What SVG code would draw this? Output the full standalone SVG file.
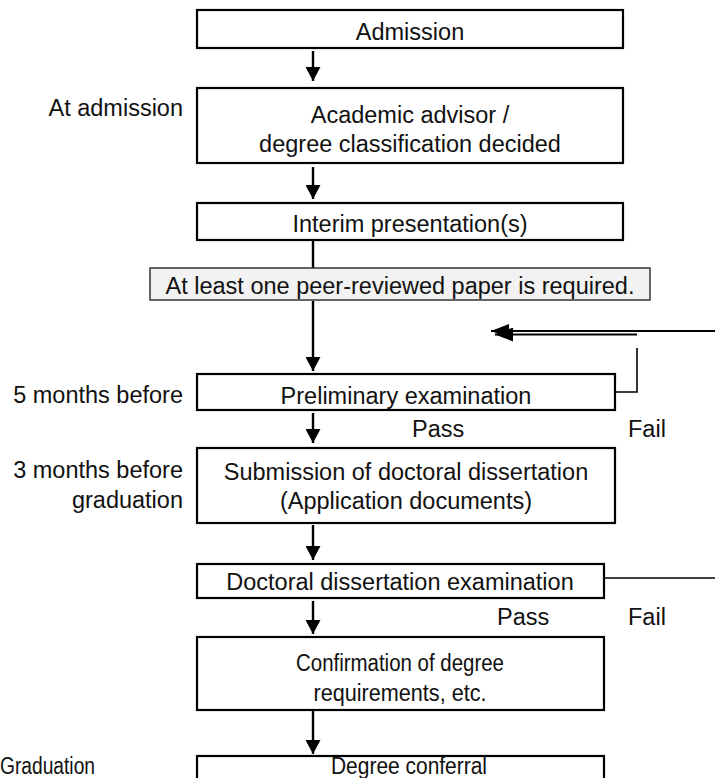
<svg xmlns="http://www.w3.org/2000/svg" width="715" height="778" viewBox="0 0 715 778">
<style>
text{font-family:"Liberation Sans",Arial,sans-serif;font-size:23.5px;fill:#111}
.c{text-anchor:middle}
.r{text-anchor:end}
.box{fill:#fff;stroke:#000;stroke-width:2.2}
.note{fill:#f2f2f2;stroke:#333;stroke-width:1.5}
.ln{fill:none;stroke:#000;stroke-width:2.4}
.thin{fill:none;stroke:#000;stroke-width:1.6}
.dbl{fill:none;stroke:#000;stroke-width:2}
</style>
<defs>
<marker id="ah" markerWidth="14" markerHeight="15" refX="10" refY="5" orient="auto" markerUnits="userSpaceOnUse" viewBox="0 0 10 10" preserveAspectRatio="none">
<path d="M0,0 L10,5 L0,10 Z" fill="#000"/>
</marker>
<marker id="ah2" markerWidth="18" markerHeight="14" refX="10" refY="5" orient="auto" markerUnits="userSpaceOnUse" viewBox="0 0 10 10" preserveAspectRatio="none">
<path d="M0,0 L10,5 L0,10 Z" fill="#000"/>
</marker>
</defs>
<rect width="715" height="778" fill="#fff"/>

<g id="connectors">
<line class="ln" x1="313" y1="51" x2="313" y2="81" marker-end="url(#ah)"/>
<line class="ln" x1="313" y1="167" x2="313" y2="199" marker-end="url(#ah)"/>
<line class="ln" x1="313" y1="241" x2="313" y2="268"/>
<line class="ln" x1="313" y1="301" x2="313" y2="371" marker-end="url(#ah)"/>
<line class="ln" x1="313" y1="413" x2="313" y2="443" marker-end="url(#ah)"/>
<line class="ln" x1="313" y1="525" x2="313" y2="560" marker-end="url(#ah)"/>
<line class="ln" x1="313" y1="601" x2="313" y2="634" marker-end="url(#ah)"/>
<line class="ln" x1="313" y1="711" x2="313" y2="754" marker-end="url(#ah)"/>
<polyline class="thin" points="616,392 637,392 637,348"/>
<line class="thin" x1="605" y1="578" x2="715" y2="578"/>
<line class="dbl" x1="715" y1="331" x2="491" y2="331" marker-end="url(#ah2)"/>
<line class="dbl" x1="637" y1="334.5" x2="495" y2="334.5" marker-end="url(#ah2)"/>
</g>

<g id="admission">
<rect class="box" x="197" y="10" width="426" height="38"/>
<text class="c" x="410" y="40">Admission</text>
</g>
<g id="label-at-admission">
<text class="r" x="183" y="116">At admission</text>
</g>
<g id="advisor">
<rect class="box" x="197" y="88" width="426" height="75"/>
<text class="c" x="410" y="123">Academic advisor /</text>
<text class="c" x="410" y="152">degree classification decided</text>
</g>
<g id="interim">
<rect class="box" x="197" y="203" width="426" height="37"/>
<text class="c" x="410" y="232">Interim presentation(s)</text>
</g>
<g id="paper-note">
<rect class="note" x="150" y="268" width="500" height="32"/>
<text class="c" x="400" y="294">At least one peer-reviewed paper is required.</text>
</g>
<g id="label-5-months">
<text class="r" x="183" y="403">5 months before</text>
</g>
<g id="preliminary">
<rect class="box" x="197" y="374" width="418" height="36"/>
<text class="c" x="406" y="404">Preliminary examination</text>
</g>
<g id="result-1">
<text x="412" y="437">Pass</text>
<text x="628" y="437">Fail</text>
</g>
<g id="label-3-months">
<text class="r" x="183" y="478">3 months before</text>
<text class="r" x="183" y="508">graduation</text>
</g>
<g id="submission">
<rect class="box" x="197" y="448" width="418" height="75"/>
<text class="c" x="406" y="480">Submission of doctoral dissertation</text>
<text class="c" x="406" y="509">(Application documents)</text>
</g>
<g id="dissertation-exam">
<rect class="box" x="197" y="564" width="407" height="34"/>
<text class="c" x="400" y="590">Doctoral dissertation examination</text>
</g>
<g id="result-2">
<text x="497" y="625">Pass</text>
<text x="628" y="625">Fail</text>
</g>
<g id="confirmation">
<rect class="box" x="197" y="637" width="407" height="73"/>
<text class="c" x="400" y="671" textLength="208" lengthAdjust="spacingAndGlyphs">Confirmation of degree</text>
<text class="c" x="400" y="701" textLength="173" lengthAdjust="spacingAndGlyphs">requirements, etc.</text>
</g>
<g id="label-graduation">
<text x="0" y="774" textLength="95" lengthAdjust="spacingAndGlyphs">Graduation</text>
</g>
<g id="degree-conferral">
<rect class="box" x="197" y="756" width="407" height="30"/>
<text class="c" x="409" y="774" textLength="156" lengthAdjust="spacingAndGlyphs">Degree conferral</text>
</g>
</svg>
